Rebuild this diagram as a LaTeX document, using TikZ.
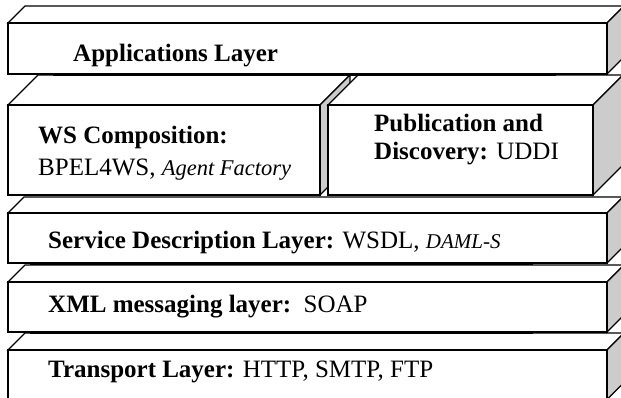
\documentclass[tikz,border=0pt]{standalone}
\usepackage{fontspec}
\setmainfont{Liberation Serif}
\tikzset{
  face/.style={draw=black, line width=1.2pt, line join=miter, fill=white},
  side/.style={draw=black, line width=1.2pt, line join=miter, fill=black!20},
  lbl/.style={anchor=base west, inner sep=0pt, font=\fontsize{25}{28}\selectfont},
}
% #1 x-left, #2 y-top, #3 x-right, #4 y-bottom, #5 depth
\newcommand\layerbox[5]{%
  \draw[face] (#1,#2) -- ++(#5,-#5) -- (#3+#5,#2-#5) -- (#3,#2) -- cycle;
  \draw[side] (#3,#2) -- ++(#5,-#5) -- (#3+#5,#4-#5) -- (#3,#4) -- cycle;
  \draw[face] (#1,#2) rectangle (#3,#4);
}
\begin{document}
\begin{tikzpicture}[x=1pt,y=-1pt]
  \useasboundingbox (0,0) rectangle (621,398);
  \clip (0,0) rectangle (621,398);
  % layers, drawn from bottom to top
  \layerbox{8}{350}{607}{399.5}{17}
  \layerbox{8}{282}{607}{332}{17}
  \draw[line width=1.2pt] (30,333) -- (533,333);
  \layerbox{8}{213}{607}{263}{16}
  \draw[line width=1.2pt] (30,264) -- (533,264);
  \layerbox{8}{105}{320}{195}{30}
  \layerbox{328}{105}{593}{195}{30}
  \layerbox{8}{23}{607}{74}{17}
  \draw[line width=1.2pt] (53,75) -- (556,75);
  % labels
  \node[lbl] (app) at (73,62) {\textbf{Applications Layer}};
  \node[lbl] (wsc) at (38,143.5) {\textbf{WS Composition:}};
  \node[lbl] (bpel) at (38,175.5) {BPEL4WS, {\fontsize{22.5}{24}\selectfont\itshape Agent Factory}};
  \node[lbl] (pub) at (374,132) {\textbf{Publication and}};
  \node[lbl] (disc) at (374,160) {\textbf{Discovery:} UDDI};
  \node[lbl] (sdl) at (48,248) {\textbf{Service Description Layer:} WSDL, {\fontsize{21}{24}\selectfont\itshape DAML-S}};
  \node[lbl] (xml) at (48,312) {\textbf{XML messaging layer:}\ \ SOAP};
  \node[lbl] (tl) at (48,377) {\textbf{Transport Layer:} HTTP, SMTP, FTP};
\end{tikzpicture}
\end{document}
